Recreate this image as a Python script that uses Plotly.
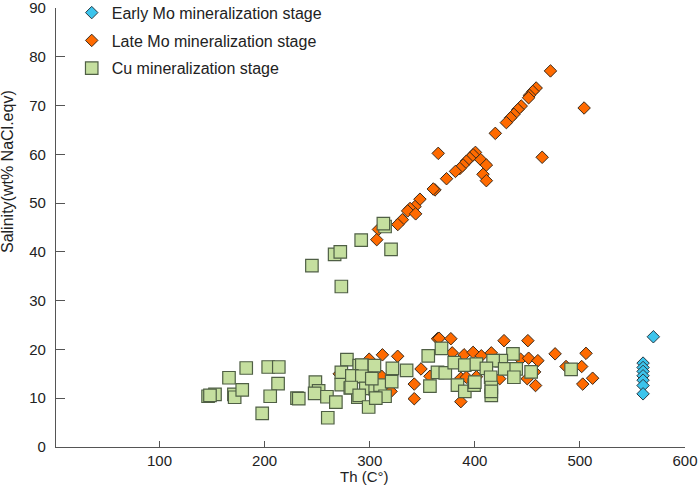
import plotly.graph_objects as go

# Th (C°) vs salinity
early_th = [569.9, 560.1, 560.1, 560.1, 560.1, 560.1, 560.1, 560.1]
early_sal = [22.6, 17.2, 16.3, 15.5, 14.6, 13.7, 12.6, 10.9]

late_th = [472.0, 464.1, 458.4, 455.2, 452.1, 451.2, 444.2, 441.0, 437.2, 434.1,
           430.0, 419.5, 365.2, 400.6, 398.4, 395.2, 392.0, 388.9, 385.8, 381.6,
           405.7, 411.0, 407.8, 411.0, 373.1, 362.1, 360.5, 347.8, 343.1, 338.4,
           336.1, 343.7, 331.1, 326.7, 308.3, 306.7, 504.0,
           271.0, 299.5, 312.1, 326.6, 300.4, 311.4, 320.3, 348.8, 342.4, 342.4,
           364.5, 366.0, 377.2, 378.5, 389.8, 357.3, 386.7, 386.7, 427.8, 450.5,
           476.4, 398.4, 406.2, 415.7, 443.6, 451.2, 460.0, 456.9, 449.9, 457.8,
           401.5, 423.7, 486.8, 505.8, 501.7, 502.7, 512.1, 392.0]
late_sal = [77.1, 59.4, 73.6, 72.9, 72.1, 71.6, 69.9, 69.2, 68.2, 67.5,
            66.5, 64.3, 60.2, 60.4, 59.9, 59.2, 58.6, 57.8, 57.1, 56.5,
            58.9, 57.8, 55.9, 54.6, 55.0, 52.7, 52.9, 50.8, 49.3, 48.9,
            48.4, 47.8, 46.6, 45.6, 44.6, 42.5, 69.5,
            15.0, 18.0, 18.9, 18.6, 14.6, 14.5, 11.4, 16.0, 12.9, 9.9,
            22.2, 22.3, 22.2, 19.3, 18.9, 14.5, 14.1, 9.3, 21.8, 21.8,
            19.1, 19.4, 18.7, 19.3, 18.0, 18.2, 17.7, 15.4, 14.0, 12.6,
            14.4, 14.0, 16.5, 19.2, 16.5, 12.9, 14.1, 14.3]

cu_th = [245.0, 266.6, 272.0, 291.9, 273.0, 314.6, 313.0, 320.3,
         146.2, 152.8, 148.0, 166.1, 182.5, 170.8, 171.5, 178.7, 197.7, 203.4,
         213.5, 212.8, 205.3, 230.8, 232.5, 248.3, 251.4, 247.6, 259.3, 267.8,
         260.1, 278.3, 273.0, 272.9, 281.5, 284.6, 290.0, 288.7, 292.5, 304.5,
         321.6, 335.1, 283.0, 292.5, 282.4, 296.3, 290.0, 299.0, 305.2, 309.9,
         314.6, 305.8, 320.9, 302.0, 355.7, 368.3, 364.5, 371.9, 357.3, 380.4,
         390.5, 383.5, 390.5, 436.3, 425.2, 417.4, 401.5, 411.0, 428.4, 439.4,
         453.6, 415.1, 437.2, 399.3, 415.7, 415.7, 415.7, 491.6, 400.0]
cu_sal = [37.2, 39.5, 40.0, 42.4, 32.9, 45.2, 45.8, 40.5,
          10.4, 10.8, 10.6, 14.2, 16.2, 10.8, 10.2, 11.7, 6.9, 16.4,
          16.4, 13.0, 10.4, 10.0, 9.9, 13.3, 11.5, 11.0, 10.3, 9.2,
          6.0, 17.9, 15.3, 12.8, 12.1, 14.4, 16.7, 10.2, 16.8, 16.7,
          16.1, 15.7, 14.6, 14.5, 12.2, 12.0, 10.6, 8.2, 11.9, 12.7,
          10.4, 10.0, 13.4, 14.0, 18.7, 20.2, 15.3, 15.2, 12.5, 17.3,
          16.8, 12.7, 11.4, 19.1, 17.7, 17.7, 17.0, 16.1, 16.0, 16.0,
          15.4, 14.3, 14.3, 12.7, 12.2, 10.6, 11.4, 15.9, 13.3]

x_ticks = [100, 200, 300, 400, 500, 600]
y_ticks = [0, 10, 20, 30, 40, 50, 60, 70, 80, 90]

FONT = "Liberation Sans, Arial, sans-serif"
AXIS = "#555555"
PLOT_W = 699 - 56 - 14
PLOT_H = 486 - 8 - 39

fig = go.Figure()
fig.add_trace(go.Scatter(
    x=late_th, y=late_sal, mode="markers", name="Late Mo mineralization stage",
    legendrank=2, legendgroup="late",
    marker=dict(symbol="diamond", size=9.6, color="#ff6a00",
                line=dict(color="#3a2a1a", width=1)),
))
fig.add_trace(go.Scatter(
    x=cu_th, y=cu_sal, mode="markers", name="Cu mineralization stage",
    legendrank=3, legendgroup="cu",
    marker=dict(symbol="square", size=12.5, color="#c5df9f",
                line=dict(color="#4f5f45", width=1.2)),
))
fig.add_trace(go.Scatter(
    x=early_th, y=early_sal, mode="markers", name="Early Mo mineralization stage",
    legendrank=1, legendgroup="early",
    marker=dict(symbol="diamond", size=9.6, color="#3cc4ec",
                line=dict(color="#2a3a44", width=1)),
))

axis_common = dict(
    showline=True, linecolor=AXIS, linewidth=1.2, mirror=False,
    showgrid=False, zeroline=False, ticks="inside", tickcolor=AXIS,
    tickwidth=1, tickfont=dict(family=FONT, size=15, color="#222222"),
    automargin=False, ticklabeloverflow="allow",
)
fig.update_xaxes(range=[1.5, 600], tickvals=x_ticks, ticklen=6, **axis_common)
fig.update_yaxes(range=[0, 90], tickvals=y_ticks, ticklen=9,
                 ticklabelstandoff=6, **axis_common)

fig.add_annotation(text="Salinity(wt% NaCl.eqv)", xref="paper", yref="paper",
                   x=-48 / PLOT_W, y=(447 - 172) / PLOT_H, textangle=-90,
                   xanchor="center", yanchor="middle", showarrow=False,
                   font=dict(family=FONT, size=16, color="#222222"))
fig.add_annotation(text="Th (C°)", xref="paper", yref="paper",
                   x=(364 - 56) / PLOT_W, y=-(477 - 447) / PLOT_H,
                   xanchor="center", yanchor="middle", showarrow=False,
                   font=dict(family=FONT, size=15, color="#222222"))

fig.update_layout(
    width=699, height=486,
    margin=dict(l=56, r=14, t=8, b=39, autoexpand=False),
    plot_bgcolor="white", paper_bgcolor="white",
    font=dict(family=FONT, color="#222222"),
    legend=dict(x=0.025, y=1.028, xanchor="left", yanchor="top",
                bgcolor="rgba(0,0,0,0)", font=dict(family=FONT, size=16),
                traceorder="grouped", tracegroupgap=4),
)

# the page's default 8px body margin would shift the whole figure
fig.write_html("out.html", config={"displayModeBar": False},
               post_script="document.body.style.margin='0';")
